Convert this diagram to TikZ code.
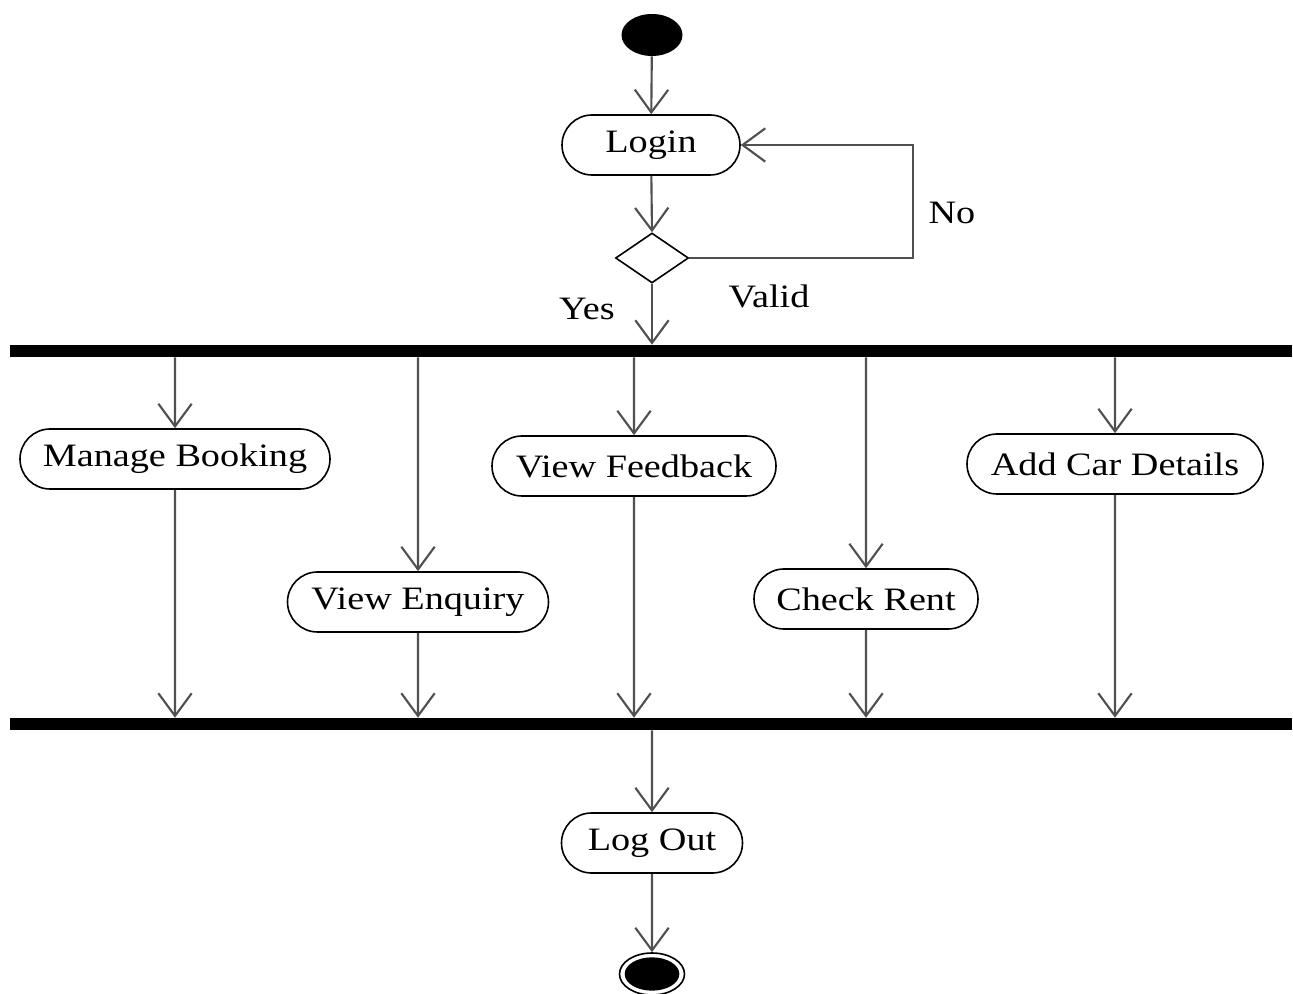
\documentclass[tikz,border=0pt]{standalone}
\usepackage{fontspec}
\setmainfont{Liberation Serif}[FakeStretch=1.17]
\usetikzlibrary{arrows.meta,shapes.misc,shapes.geometric}
\definecolor{edge}{HTML}{505050}
\begin{document}
\begin{tikzpicture}[x=0.75pt,y=-0.75pt,
  every node/.style={font=\fontsize{24.5pt}{28pt}\selectfont},
  act/.style={rounded rectangle,draw=black,line width=1.2pt,minimum height=45pt,inner sep=0pt},
  bar/.style={rectangle,fill=black,inner sep=0pt,minimum height=9pt,minimum width=962pt},
  flow/.style={draw=edge,line width=1.6pt,-{Straight Barb[length=17pt,width=25pt,line width=1.6pt]}},
  lbl/.style={inner sep=0pt}]
\useasboundingbox (0,0) rectangle (1293,994);

% start, login and validation
\node[ellipse,fill=black,minimum width=45.75pt,minimum height=31.5pt,inner sep=0pt] (start) at (652,35) {};
\node[act,minimum width=133.5pt] (login) at (651,145) {Login};
\node[diamond,draw=black,line width=1.2pt,minimum width=54.75pt,minimum height=37.5pt,inner sep=0pt] (dec) at (652,258) {};
\coordinate (loop) at (913,258);
\node[lbl] (no) at (952,213) {No};
\node[lbl] (valid) at (769,296) {Valid};
\node[lbl] (yes) at (587,309) {Yes};

% fork and join bars
\node[bar] (fork) at (651,351) {};
\node[bar] (join) at (651,724) {};

% parallel activities
\node[act,minimum width=232.5pt] (mb) at (175,459) {Manage Booking};
\node[act,minimum width=195.75pt] (ve) at (418,602) {View Enquiry};
\node[act,minimum width=213pt] (vf) at (634,466) {View Feedback};
\node[act,minimum width=168pt] (cr) at (866,599) {Check Rent};
\node[act,minimum width=222pt] (ac) at (1115,464) {Add Car Details};

% logout and final node
\node[act,minimum width=135.75pt] (logout) at (652,843) {Log Out};
\node[ellipse,draw=black,line width=1.2pt,minimum width=48.75pt,minimum height=31.5pt,inner sep=0pt] (final) at (652,974) {};
\node[ellipse,fill=black,minimum width=41pt,minimum height=25pt,inner sep=0pt] (finalin) at (final) {};

% connectors
\draw[flow] (start) -- (login);
\draw[flow] (login) -- (dec.north);
\draw[flow] (dec.east) -- (loop) |- (login.east);
\draw[flow] (dec.south) -- (dec |- fork.north);
\foreach \a in {mb,ve,vf,cr,ac}{
  \draw[flow] (fork.south -| \a) -- (\a);
  \draw[flow] (\a) -- (\a |- join.north);
}
\draw[flow] (join.south -| logout) -- (logout);
\draw[flow] (logout) -- (final.north);
\end{tikzpicture}
\end{document}
